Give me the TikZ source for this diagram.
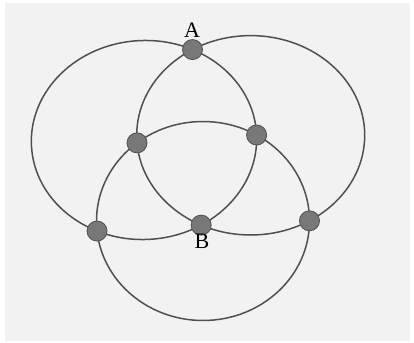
\documentclass[tikz,border=0pt]{standalone}
\usepackage{fontspec}
\setmainfont{Liberation Serif}
\usetikzlibrary{intersections}
\definecolor{linegray}{HTML}{505050}
\definecolor{dotgray}{HTML}{787878}
\definecolor{dotedge}{HTML}{555555}
\definecolor{bggray}{HTML}{F2F2F2}
\begin{document}
\begin{tikzpicture}[x=1pt,y=-1pt,
  curve/.style={draw=linegray, line width=1.5pt},
  dot/.style={circle, fill=dotgray, draw=dotedge, line width=0.9pt, minimum size=20pt, inner sep=0pt},
  lab/.style={font=\fontsize{22}{22}\selectfont, text=black, inner sep=0pt}]
\useasboundingbox (0,0) rectangle (414,342);
\fill[white] (0,0) rectangle (414,342);
\fill[bggray] (5,3) rectangle (410,341);
\path[curve, name path=L] (144,140) ellipse [x radius=112.7pt, y radius=99.5pt, rotate=3];
\path[curve, name path=R] (250.7,135.3) ellipse [x radius=114pt, y radius=99.7pt];
\path[curve, name path=D] (203,221) ellipse [x radius=106.5pt, y radius=99.5pt];
\path[name intersections={of=L and R, name=lr}];
\path[name intersections={of=L and D, name=ld}];
\path[name intersections={of=R and D, name=rd}];
\node[dot] (n1) at (lr-1) {};
\node[dot] (n2) at (lr-2) {};
\node[dot] (n3) at (ld-1) {};
\node[dot] (n4) at (ld-2) {};
\node[dot] (n5) at (rd-1) {};
\node[dot] (n6) at (rd-2) {};
\node[lab] (A) at (192,30) {A};
\node[lab] (B) at (202,241) {B};
\end{tikzpicture}
\end{document}
